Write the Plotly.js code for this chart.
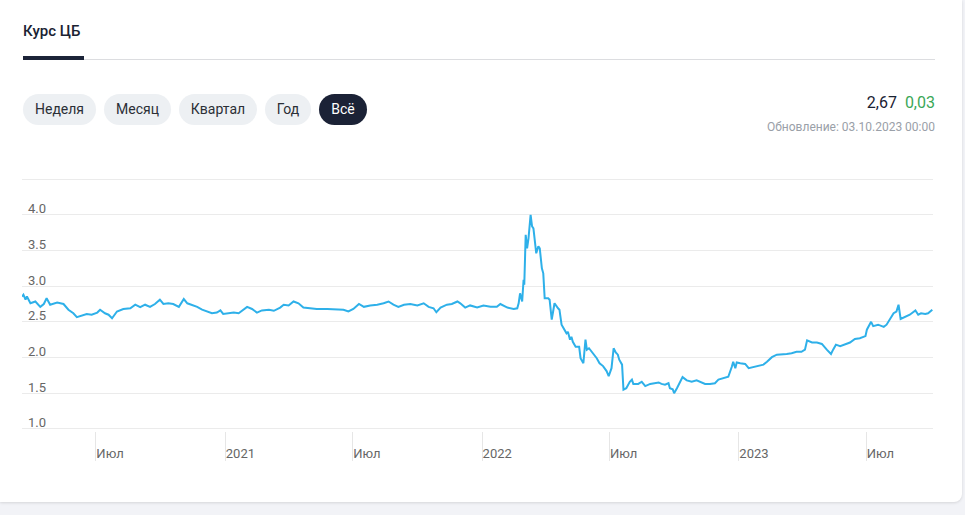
<!DOCTYPE html>
<html>
<head>
<meta charset="utf-8">
<script src="https://cdn.plot.ly/plotly-3.0.1.min.js"></script>
<style>
  html, body { margin: 0; padding: 0; background: #f2f3f7; font-family: Roboto, "Noto Sans", sans-serif; }
  #card { position: absolute; left: 0; top: 0; width: 962px; height: 502px; background: #fff;
          border-radius: 0 0 8px 0; box-shadow: 0 1px 3px rgba(0,0,0,0.12); overflow: hidden; }
  #plot { position: absolute; left: 0; top: 0; width: 962px; height: 500px; }
  .tab { position: absolute; left: 23px; top: 22px; font-size: 15px; font-weight: 500; color: #1a2233; }
  .tabbar { position: absolute; left: 23px; top: 56px; width: 61px; height: 4px; background: #1c2438; }
  .tabline { position: absolute; left: 23px; top: 59px; width: 912px; height: 1px; background: #dcdde0; }
  .btn { position: absolute; top: 94px; height: 31px; line-height: 31px; border-radius: 16px; background: #edf0f3;
         color: #2b2f36; font-size: 14px; text-align: center; }
  .btn.active { background: #1b2236; color: #fff; }
  .price { position: absolute; right: 27px; top: 93px; font-size: 16px; color: #1a2233; white-space: nowrap; }
  .price span { color: #3aa757; margin-left: 4px; }
  .upd { position: absolute; right: 27px; top: 120px; font-size: 12px; color: #9aa0a8; white-space: nowrap; }
</style>
</head>
<body>
<div id="card">
  <div id="plot"></div>
  <div class="tab">Курс ЦБ</div>
  <div class="tabline"></div>
  <div class="tabbar"></div>
  <div class="btn" style="left:23px;width:73px;">Неделя</div>
  <div class="btn" style="left:104px;width:67px;">Месяц</div>
  <div class="btn" style="left:179px;width:78px;">Квартал</div>
  <div class="btn" style="left:265px;width:46px;">Год</div>
  <div class="btn active" style="left:319px;width:48px;">Всё</div>
  <div class="price">2,67 <span>0,03</span></div>
  <div class="upd">Обновление: 03.10.2023 00:00</div>
</div>
<script>
const dates = [
  '2020-03-18','2020-03-20','2020-03-23','2020-03-25','2020-03-30','2020-04-06','2020-04-13','2020-04-18',
  '2020-04-22','2020-04-27','2020-05-07','2020-05-16','2020-05-23','2020-05-30','2020-06-04','2020-06-11',
  '2020-06-18','2020-06-25','2020-07-03','2020-07-07','2020-07-14','2020-07-19','2020-07-24','2020-07-31',
  '2020-08-09','2020-08-19','2020-08-26','2020-09-02','2020-09-09','2020-09-16','2020-09-23','2020-09-30',
  '2020-10-05','2020-10-12','2020-10-19','2020-10-27','2020-11-03','2020-11-08','2020-11-15','2020-11-22',
  '2020-11-29','2020-12-06','2020-12-13','2020-12-20','2020-12-25','2020-12-29',
  '2021-01-06','2021-01-13','2021-01-20','2021-01-25','2021-02-01','2021-02-08','2021-02-15','2021-02-22',
  '2021-03-04','2021-03-11','2021-03-20','2021-03-25','2021-04-01','2021-04-08','2021-04-15','2021-04-22',
  '2021-05-02','2021-05-11','2021-05-26','2021-06-09','2021-06-18','2021-06-25','2021-07-02','2021-07-10',
  '2021-07-17','2021-07-26','2021-08-05','2021-08-14','2021-08-21','2021-08-28','2021-09-04','2021-09-12',
  '2021-09-21','2021-10-01','2021-10-10','2021-10-17','2021-10-24','2021-10-28','2021-11-03','2021-11-12',
  '2021-11-19','2021-11-27','2021-12-01','2021-12-08','2021-12-15','2021-12-25',
  '2022-01-03','2022-01-13','2022-01-22','2022-01-27','2022-02-06','2022-02-15','2022-02-20','2022-02-22',
  '2022-02-23','2022-02-24','2022-02-27','2022-03-01','2022-03-02','2022-03-04','2022-03-06','2022-03-08',
  '2022-03-11','2022-03-13','2022-03-15','2022-03-19','2022-03-22','2022-03-24','2022-03-27','2022-03-29',
  '2022-03-31','2022-04-05','2022-04-07','2022-04-10','2022-04-12','2022-04-14','2022-04-19','2022-04-21',
  '2022-04-24','2022-04-26','2022-04-28','2022-05-01','2022-05-03','2022-05-06','2022-05-08','2022-05-10',
  '2022-05-14','2022-05-19','2022-05-21','2022-05-25','2022-05-28','2022-05-30','2022-06-02','2022-06-08',
  '2022-06-13','2022-06-17','2022-06-22','2022-06-27','2022-06-30','2022-07-04','2022-07-07','2022-07-10',
  '2022-07-13','2022-07-15','2022-07-19','2022-07-21','2022-07-25','2022-07-30','2022-08-02','2022-08-04',
  '2022-08-11','2022-08-16','2022-08-21','2022-08-28','2022-09-04','2022-09-09','2022-09-13','2022-09-18',
  '2022-09-23','2022-09-25','2022-09-29','2022-10-01','2022-10-05','2022-10-10','2022-10-13','2022-10-19',
  '2022-10-26','2022-11-02','2022-11-07','2022-11-14','2022-11-21','2022-11-28','2022-12-03','2022-12-10',
  '2022-12-17','2022-12-22','2022-12-24','2022-12-27','2022-12-29',
  '2023-01-03','2023-01-10','2023-01-15','2023-01-22','2023-01-29','2023-02-05','2023-02-10','2023-02-17',
  '2023-02-24','2023-03-03','2023-03-10','2023-03-17','2023-03-24','2023-03-31','2023-04-05','2023-04-08',
  '2023-04-15','2023-04-22','2023-04-29','2023-05-06','2023-05-12','2023-05-15','2023-05-19','2023-05-25',
  '2023-06-01','2023-06-08','2023-06-15','2023-06-22','2023-06-30','2023-07-02','2023-07-08','2023-07-11',
  '2023-07-18','2023-07-26','2023-07-30','2023-08-04','2023-08-09','2023-08-13','2023-08-16','2023-08-19',
  '2023-08-25','2023-09-01','2023-09-09','2023-09-13','2023-09-17','2023-09-23','2023-09-27','2023-10-03'
];
const rates = [
  2.855,2.88,2.81,2.855,2.76,2.785,2.71,2.75,
  2.83,2.74,2.77,2.75,2.67,2.62,2.565,2.585,
  2.61,2.60,2.63,2.67,2.62,2.60,2.55,2.645,
  2.68,2.69,2.74,2.705,2.74,2.71,2.75,2.81,
  2.75,2.76,2.75,2.71,2.82,2.76,2.74,2.71,
  2.67,2.645,2.62,2.63,2.66,2.61,
  2.62,2.63,2.62,2.66,2.71,2.68,2.63,2.66,
  2.67,2.655,2.70,2.74,2.73,2.785,2.76,2.70,
  2.69,2.68,2.68,2.68,2.67,2.645,2.68,2.75,
  2.71,2.73,2.74,2.76,2.785,2.74,2.71,2.74,
  2.75,2.73,2.76,2.71,2.69,2.635,2.70,2.74,
  2.75,2.785,2.76,2.70,2.73,2.70,
  2.73,2.71,2.71,2.75,2.70,2.68,2.69,2.76,
  2.81,2.90,2.785,3.09,3.02,3.72,3.53,3.67,
  4.00,3.84,3.81,3.46,3.56,3.53,3.25,3.18,
  2.83,2.83,2.81,2.53,2.645,2.76,2.69,2.67,
  2.46,2.43,2.39,2.34,2.36,2.25,2.29,2.22,
  2.15,2.15,1.99,1.92,2.25,2.11,2.13,2.06,
  1.99,1.92,1.88,1.81,1.74,1.85,2.13,2.07,
  2.04,1.97,1.90,1.55,1.57,1.66,1.69,1.63,
  1.63,1.66,1.60,1.63,1.64,1.65,1.63,1.62,
  1.64,1.57,1.555,1.50,1.57,1.66,1.725,1.68,
  1.66,1.68,1.66,1.63,1.63,1.64,1.69,1.71,
  1.73,1.87,1.94,1.85,1.93,
  1.92,1.91,1.85,1.865,1.88,1.90,1.94,2.005,
  2.04,2.04,2.05,2.06,2.08,2.08,2.11,2.24,
  2.21,2.21,2.19,2.11,2.05,2.11,2.18,2.16,
  2.18,2.21,2.26,2.27,2.30,2.39,2.50,2.44,
  2.46,2.43,2.46,2.55,2.62,2.645,2.74,2.54,
  2.565,2.60,2.66,2.60,2.62,2.61,2.62,2.67
];
const yTickVals = [1.0, 1.5, 2.0, 2.5, 3.0, 3.5, 4.0, 4.5];
const yTickText = ['1.0', '1.5', '2.0', '2.5', '3.0', '3.5', '4.0', ''];
const xTickVals = ['2020-07-01','2021-01-01','2021-07-01','2022-01-01','2022-07-01','2023-01-01','2023-07-01'];
const xTickText = ['Июл','2021','Июл','2022','Июл','2023','Июл'];

const trace = {
  x: dates, y: rates, type: 'scatter', mode: 'lines',
  line: { color: '#2eb0e9', width: 2 }, hoverinfo: 'skip'
};
const layout = {
  width: 962, height: 500,
  margin: { l: 22, r: 29, t: 177, b: 69 },
  paper_bgcolor: 'rgba(0,0,0,0)', plot_bgcolor: 'rgba(0,0,0,0)',
  showlegend: false,
  font: { family: 'Roboto, sans-serif', size: 13, color: '#666' },
  xaxis: {
    type: 'date', range: ['2020-03-18', '2023-10-04'],
    tickmode: 'array', tickvals: xTickVals, ticktext: xTickText,
    showgrid: false, zeroline: false, showline: false,
    ticks: 'outside', ticklen: 29, tickwidth: 1, tickcolor: '#e6e6e6',
    ticklabelposition: 'outside right', ticklabelstandoff: 10,
    tickfont: { family: 'Roboto, sans-serif', size: 13, color: '#666' }
  },
  yaxis: {
    range: [0.97, 4.53], tickmode: 'array', tickvals: yTickVals, ticktext: yTickText,
    showgrid: true, gridcolor: '#ebebeb', gridwidth: 1, zeroline: false, showline: false,
    ticks: '', ticklabelposition: 'inside', ticklabelstandoff: 3, ticklabelshift: -6,
    tickfont: { family: 'Roboto, sans-serif', size: 13, color: '#666' }
  }
};
Plotly.newPlot('plot', [trace], layout, { staticPlot: true, displayModeBar: false });
</script>
</body>
</html>
